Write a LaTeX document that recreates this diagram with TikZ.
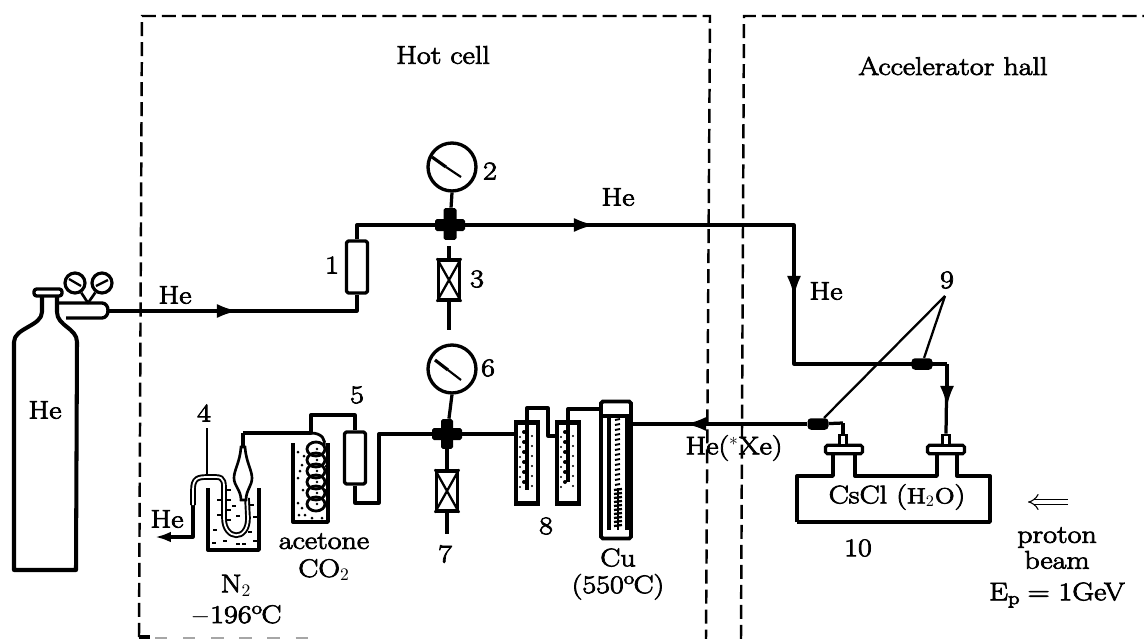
\documentclass[tikz,border=0pt]{standalone}
\usepackage{amsmath}
\usepackage{fontspec}
\setmainfont{Latin Modern Roman}[FakeStretch=1.18, FakeBold=3]
\usepackage{tikz}
\usetikzlibrary{arrows.meta, positioning, shapes}

\tikzset{
  lbl/.style={inner sep=0pt, align=center, font=\fontsize{14.5}{16}\selectfont},
  pipe/.style={line width=1.85pt, line join=round},
  thin pipe/.style={line width=1.3pt},
  flow/.style={pipe, -{Latex[length=12pt, width=8pt]}},
  wall/.style={line width=1.9pt, line join=round},
  zone/.style={line width=1.4pt, dash pattern=on 8pt off 3.4pt},
  trap/.style={draw, rectangle, rounded corners=1pt, wall, minimum width=0.42cm, minimum height=1.04cm, inner sep=0pt},
  valve/.style={draw, rectangle, wall, minimum width=0.42cm, minimum height=0.8cm, inner sep=0pt},
  gauge/.style={draw, circle, wall, minimum size=0.96cm, inner sep=0pt},
  joint/.style={fill=black, rectangle, rounded corners=1pt, inner sep=0pt},
  clip9/.style={fill=black, rectangle, rounded corners=2pt, minimum width=0.42cm, minimum height=0.23cm, inner sep=0pt},
  tube/.style={draw=black, line width=1.1pt, double=white, double distance=1pt},
  tube8/.style={draw, rectangle, line width=2.4pt, minimum width=0.44cm, minimum height=1.62cm, inner sep=0pt},
  flange/.style={draw, rectangle, rounded corners=1pt, line width=1.8pt, fill=white, minimum width=0.74cm, minimum height=0.17cm, inner sep=0pt},
  port/.style={draw, rectangle, line width=1.6pt, fill=white, minimum width=0.15cm, minimum height=0.2cm, inner sep=0pt},
  speck/.style={fill=black}
}

\begin{document}
\begin{tikzpicture}[x=0.02cm, y=-0.02cm]
\useasboundingbox (0,0) rectangle (1144,639);

% --- Zones ---
\draw[zone] (139,637) -- (142,16) -- (710,16) -- (706,639);
\draw[zone] (741,639) -- (744,16) -- (1144,16);
\draw[wall] (139,637) -- (150,637);
\draw[black!35, line width=0.6pt, dash pattern=on 7pt off 9pt] (155,638) -- (310,638);
\node[lbl] (hotcell) at (443,55) {Hot cell};
\node[lbl] (hall) at (953,66) {Accelerator hall};

% --- Cylinder and regulator ---
\draw[wall, line width=2.3pt] (42,296) -- (42,312) .. controls (42,326) and (14,328) .. (14,342) -- (14,570) -- (76,570) -- (77,342) .. controls (77,328) and (57,326) .. (57,312) -- (57,296);
\draw[wall, rounded corners=1.5pt] (34,289) rectangle (62,296);
\draw[wall] (57,303) -- (102,303) .. controls (110,303) and (110,318) .. (102,318) -- (66,318);
\node[gauge, minimum size=0.4cm, line width=1.8pt] (regl) at (75,283) {};
\node[gauge, minimum size=0.4cm, line width=1.8pt] (regr) at (102,283) {};
\draw[wall, line width=1.5pt] (regl) -- (88,303) -- (regr);
\draw[line width=1.3pt] (69,279) -- (81,286) (96,286) -- (108,280);
\coordinate (regout) at (108,311);
\node[lbl] (hecyl) at (45,410) {He};

% --- Upper line ---
\coordinate (arrowa) at (238,311);
\coordinate (arrowb) at (595,225);
\coordinate (bendr) at (794,225);
\coordinate (arrowc) at (794,297);
\coordinate (bendd) at (794,364);
\coordinate (bende) at (947,364);
\coordinate (arrowd) at (947,407);
\node[lbl] (hein) at (175,295) {He};
\node[trap] (one) at (357,267) {};
\node[lbl] (numone) at (332,265) {1};
\node[joint, minimum width=0.6cm, minimum height=0.24cm] (crossa) at (450,225) {};
\node[joint, minimum width=0.26cm, minimum height=0.64cm] (crossav) at (450,224) {};
\node[gauge] (gaugetwo) at (452,167) {};
\node[lbl] (numtwo) at (490,171) {2};
\node[valve] (three) at (449,280) {};
\node[lbl] (numthree) at (477,279) {3};
\coordinate (threetop) at (449,246);
\coordinate (threeend) at (449,330);
\node[lbl] (heup) at (618,197) {He};
\node[lbl] (hedown) at (826,291) {He};
\draw[pipe] (regout) -| (one.south);
\draw[flow] (regout) -- (arrowa);
\draw[pipe] (one.north) |- (crossa);
\draw[pipe] (crossa) -- (bendr) -- (bendd) -- (bende);
\draw[flow] (crossa) -- (arrowb);
\draw[flow] (bendr) -- (arrowc);
\draw[pipe] (gaugetwo.south) -- (crossav);
\draw[pipe] (threetop) -- (three.north);
\draw[pipe] (three.south) -- (threeend);
\draw[thin pipe] (three.north west) -- (three.south east) (three.north east) -- (three.south west);
\draw[line width=1.8pt] (432,157) -- (446,167);
\draw[line width=1.2pt] (446,167) -- (461,177);

% --- Lower line ---
\node[joint, minimum width=0.6cm, minimum height=0.24cm] (crossb) at (447,434) {};
\node[joint, minimum width=0.24cm, minimum height=0.6cm] (crossbv) at (447,434) {};
\node[gauge] (gaugesix) at (452,369) {};
\node[lbl] (numsix) at (488,368) {6};
\node[valve] (seven) at (447,491) {};
\node[lbl] (numseven) at (445,554) {7};
\coordinate (sevenend) at (447,534);
\node[trap] (five) at (355,458) {};
\node[lbl] (numfive) at (357,395) {5};
\coordinate (loopa) at (355,503);
\coordinate (loopb) at (379,503);
\coordinate (loopc) at (379,434);
\coordinate (loopd) at (355,415);
\coordinate (loope) at (311,415);
\coordinate (coil) at (311,433);
\coordinate (bulbtop) at (243,433);
\draw[pipe] (gaugesix.south) -- (crossbv);
\draw[pipe] (crossbv) -- (seven.north);
\draw[pipe] (seven.south) -- (sevenend);
\draw[thin pipe] (seven.north west) -- (seven.south east) (seven.north east) -- (seven.south west);
\draw[line width=1.8pt] (435,360) -- (448,370);
\draw[line width=1.2pt] (448,370) -- (461,380);
\draw[pipe] (five.south) -- (loopa) -- (loopb) -- (loopc) -- (crossb);
\draw[pipe] (five.north) -- (loopd) -- (loope) -- (coil) -- (bulbtop);

% --- Tubes 8 ---
\node[tube8] (eighta) at (527,463) {};
\node[tube8] (eightb) at (568,463) {};
\node[lbl] (numeight) at (546,526) {8};
\coordinate (linka) at (527,408);
\coordinate (linkb) at (548,408);
\coordinate (linkc) at (548,436);
\coordinate (linkd) at (568,409);
\coordinate (linke) at (601,409);
\draw[pipe] (crossb) -- (eighta.west |- crossb);
\draw[pipe] (eighta.north) -- (linka) -- (linkb) -- (linkc) -- (eightb.west |- linkc);
\draw[pipe] (eightb.north) -- (linkd) -- (linke);
\foreach \xx/\yend in {527/490, 568/482}{
  \draw[pipe] (\xx,423) -- (\xx,\yend);
  \foreach \yy in {432,442,...,\yend}{
    \fill[speck] (\xx-3,\yy) circle (2);
    \fill[speck] (\xx+5,\yy+4) circle (1.1);
    \fill[speck] (\xx-7,\yy+5) circle (1.1);
  }
}

% --- Cu furnace ---
\node[draw, rectangle, rounded corners=1pt, line width=2.2pt, minimum width=0.6cm, minimum height=2.74cm, inner sep=0pt] (furnace) at (616,470) {};
\draw[wall] (603,416) -- (629,416);
\draw[line width=2.2pt] (609,417) -- (609,530);
\draw[line width=2.2pt] (627,417) -- (627,530);
\foreach \yy in {420,425,...,485}{
  \draw[line width=1.1pt] (615,\yy) -- (620,\yy-1);
}
\foreach \yy in {490,494,...,528}{
  \draw[line width=1.3pt] (614,\yy) -- (622,\yy-1);
}
\draw[line width=1.2pt] (618,488) -- (618,530);
\coordinate (cuout) at (631,424);
\coordinate (arrowe) at (685,424);
\node[lbl, font=\fontsize{14.5}{15.3}\selectfont] (labcu) at (618,574) {Cu\\(550$^{\mathrm{o}}$C)};

% --- Accelerator side ---
\node[lbl] (numnine) at (947,280) {9};
\coordinate (ninejoin) at (945,296);
\node[clip9] (clipa) at (922,364) {};
\node[clip9] (clipb) at (818,424) {};
\node[lbl] (heback) at (734,448) {He($^{*}$Xe)};
\coordinate (portbend) at (843,423);
\draw[thin pipe] (ninejoin) -- (clipa);
\draw[thin pipe] (ninejoin) -- (clipb);
\draw[pipe] (clipb) -- (cuout);
\draw[flow] (clipb) -- (arrowe);
\draw[pipe] (clipb) -- (portbend);
\node[flange] (flangeb) at (844,449.5) {};
\node[port] (portb) at (843,440) {};
\node[flange] (flangec) at (946,449.5) {};
\node[port] (portc) at (946,440) {};
\draw[pipe] (portbend) -- (portb.north);
\draw[pipe] (bende) -- (portc.north);
\draw[flow] (bende) -- (arrowd);
\draw[wall] (797,522) -- (797,476) -- (833,476) -- (833,454.5);
\draw[wall] (855,454.5) -- (855,476) -- (937,476) -- (937,454.5);
\draw[wall] (957,454.5) -- (957,476) -- (990,476) -- (990,522) -- (797,522);
\node[lbl] (cscl) at (897,497) {CsCl ({\fontsize{12.5}{14}\selectfont H$_2$O})};
\node[lbl] (numten) at (858,548) {10};
\coordinate (beamstart) at (1068,502);
\coordinate (beamend) at (1028,502);
\draw[line width=0.6pt, double distance=2.6pt, -{Implies}] (beamstart) -- (beamend);
\node[lbl, font=\fontsize{14.5}{14.7}\selectfont] (proton) at (1057,548) {proton\\beam};
\node[lbl] (energy) at (1057,595) {E$_{\mathrm{p}}$ = 1GeV};

% --- Nitrogen trap ---
\node[lbl] (numfour) at (204,413) {4};
\coordinate (fourline) at (207,428);
\coordinate (fourtip) at (207,475);
\coordinate (heoutend) at (155,537);
\coordinate (heoutbend) at (193,537);
\coordinate (heoutup) at (193,505);
\node[lbl] (heout) at (167,519) {He};
\draw[thin pipe] (fourline) -- (fourtip);
\draw[pipe, -{Latex[length=9pt, width=6pt]}] (heoutup) -- (heoutbend) -- (heoutend);
\draw[wall] (208,488) -- (208,550) -- (259,550) -- (259,488);
\draw[tube] (193,505) -- (193,490) .. controls (193,478) and (198,477) .. (208,477) -- (216,477)
  .. controls (225,477) and (224,484) .. (224,492) -- (224,518) .. controls (224,540) and (248,542) .. (248,518) -- (247,498);
\draw[line width=1.5pt, fill=white] (241,447) .. controls (240,462) and (234,470) .. (234,478) .. controls (234,486) and (241,490) .. (241,500)
  -- (246,500) .. controls (246,490) and (252,486) .. (252,478) .. controls (252,470) and (246,462) .. (245,447) -- cycle;
\draw[pipe] (243,447) -- (bulbtop);
\foreach \xx/\yy in {229/490, 229/500, 229/510, 229/520, 219/500, 219/515, 234/506, 238/516, 252/505, 255/517, 215/530, 225/541, 238/544, 250/532, 255/541, 214/543, 244/544}{
  \draw[line width=1.4pt] (\xx-2,\yy) -- (\xx+2,\yy);
}
\node[lbl, font=\fontsize{14.5}{17.5}\selectfont] (labnitro) at (236,600) {N$_2$\\$-$196$^{\mathrm{o}}$C};

% --- Acetone trap ---
\draw[wall] (293,443) -- (293,522) -- (328,522) -- (328,443);
\foreach \yy in {449,460,...,510}{
  \draw[line width=1.6pt] (316,\yy) ellipse (9 and 7);
  \fill[speck] (317,\yy) circle (1.3);
}
\draw[line width=1.6pt] (311,433) .. controls (322,433) and (326,440) .. (324,446);
\foreach \xx/\yy in {298/452, 302/465, 298/478, 303/490, 298/503, 305/515, 322/518, 326/490, 326/466, 299/515, 312/518, 304/456, 300/471, 326/505, 302/508}{
  \fill[speck] (\xx,\yy) circle (1.5);
}
\node[lbl, font=\fontsize{14.5}{16}\selectfont] (labacetone) at (324,557) {acetone\\CO$_2$};
\end{tikzpicture}
\end{document}
